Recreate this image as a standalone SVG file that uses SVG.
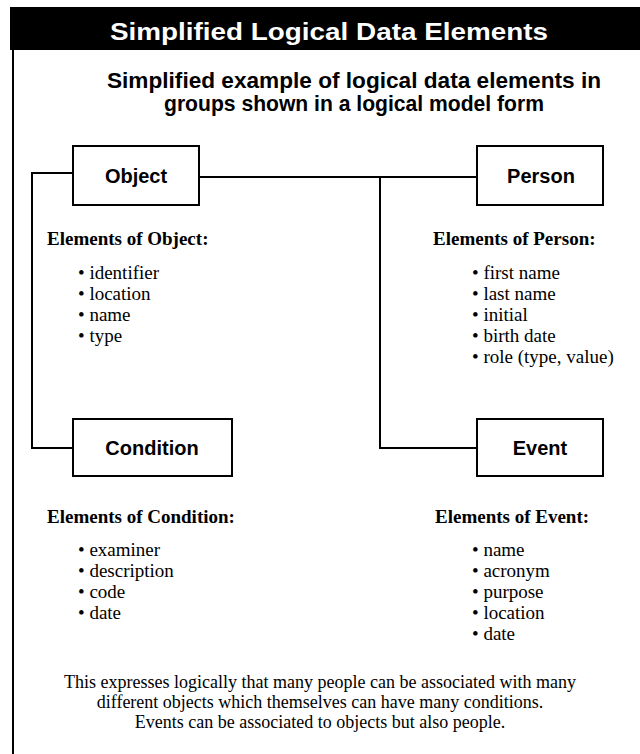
<svg xmlns="http://www.w3.org/2000/svg" width="640" height="754" viewBox="0 0 640 754">
<style>
.hdr{font-family:"Liberation Sans",Arial,sans-serif;font-weight:bold;fill:#fff;font-size:24px}
.ttl{font-family:"Liberation Sans",Arial,sans-serif;font-weight:bold;fill:#000;font-size:22px}
.lbl{font-family:"Liberation Sans",Arial,sans-serif;font-weight:bold;fill:#000;font-size:20px;text-anchor:middle}
.box{fill:#fff;stroke:#000;stroke-width:2}
.hd{font-family:"Liberation Serif","Times New Roman",serif;font-weight:bold;font-size:19px;fill:#000}
.it{font-family:"Liberation Serif","Times New Roman",serif;font-size:19px;fill:#000}
.par{font-family:"Liberation Serif","Times New Roman",serif;font-size:18px;fill:#000;text-anchor:middle}
.con{fill:none;stroke:#000;stroke-width:2}
</style>
<rect width="640" height="754" fill="#fff"/>
<rect x="10" y="7" width="630" height="43" fill="#000"/>
<line x1="13" y1="50" x2="13" y2="754" stroke="#000" stroke-width="2"/>
<text class="hdr" x="110" y="40" textLength="438" lengthAdjust="spacingAndGlyphs">Simplified Logical Data Elements</text>
<text class="ttl" x="107" y="88" textLength="494" lengthAdjust="spacingAndGlyphs">Simplified example of logical data elements in</text>
<text class="ttl" x="164" y="111" textLength="380" lengthAdjust="spacingAndGlyphs">groups shown in a logical model form</text>
<g id="connectors">
<polyline class="con" points="73,173 32,173 32,448 73,448"/>
<polyline class="con" points="199,177 477,177"/>
<polyline class="con" points="380,177 380,448 477,448"/>
</g>
<g id="object">
<rect class="box" x="73" y="146" width="126" height="59"/>
<text class="lbl" x="136" y="183">Object</text>
<text class="hd" x="47" y="245">Elements of Object:</text>
<text class="it" x="78" y="279">• identifier</text>
<text class="it" x="78" y="300">• location</text>
<text class="it" x="78" y="321">• name</text>
<text class="it" x="78" y="342">• type</text>
</g>
<g id="person">
<rect class="box" x="477" y="146" width="126" height="59"/>
<text class="lbl" x="541" y="183">Person</text>
<text class="hd" x="433" y="245">Elements of Person:</text>
<text class="it" x="472" y="279">• first name</text>
<text class="it" x="472" y="300">• last name</text>
<text class="it" x="472" y="321">• initial</text>
<text class="it" x="472" y="342">• birth date</text>
<text class="it" x="472" y="363">• role (type, value)</text>
</g>
<g id="condition">
<rect class="box" x="73" y="419" width="159" height="57"/>
<text class="lbl" x="152" y="455">Condition</text>
<text class="hd" x="47" y="523">Elements of Condition:</text>
<text class="it" x="78" y="556">• examiner</text>
<text class="it" x="78" y="577">• description</text>
<text class="it" x="78" y="598">• code</text>
<text class="it" x="78" y="619">• date</text>
</g>
<g id="event">
<rect class="box" x="477" y="419" width="126" height="57"/>
<text class="lbl" x="540" y="455">Event</text>
<text class="hd" x="435" y="523">Elements of Event:</text>
<text class="it" x="472" y="556">• name</text>
<text class="it" x="472" y="577">• acronym</text>
<text class="it" x="472" y="598">• purpose</text>
<text class="it" x="472" y="619">• location</text>
<text class="it" x="472" y="640">• date</text>
</g>
<g id="note">
<text class="par" x="320" y="688">This expresses logically that many people can be associated with many</text>
<text class="par" x="320" y="708">different objects which themselves can have many conditions.</text>
<text class="par" x="320" y="728">Events can be associated to objects but also people.</text>
</g>
</svg>
